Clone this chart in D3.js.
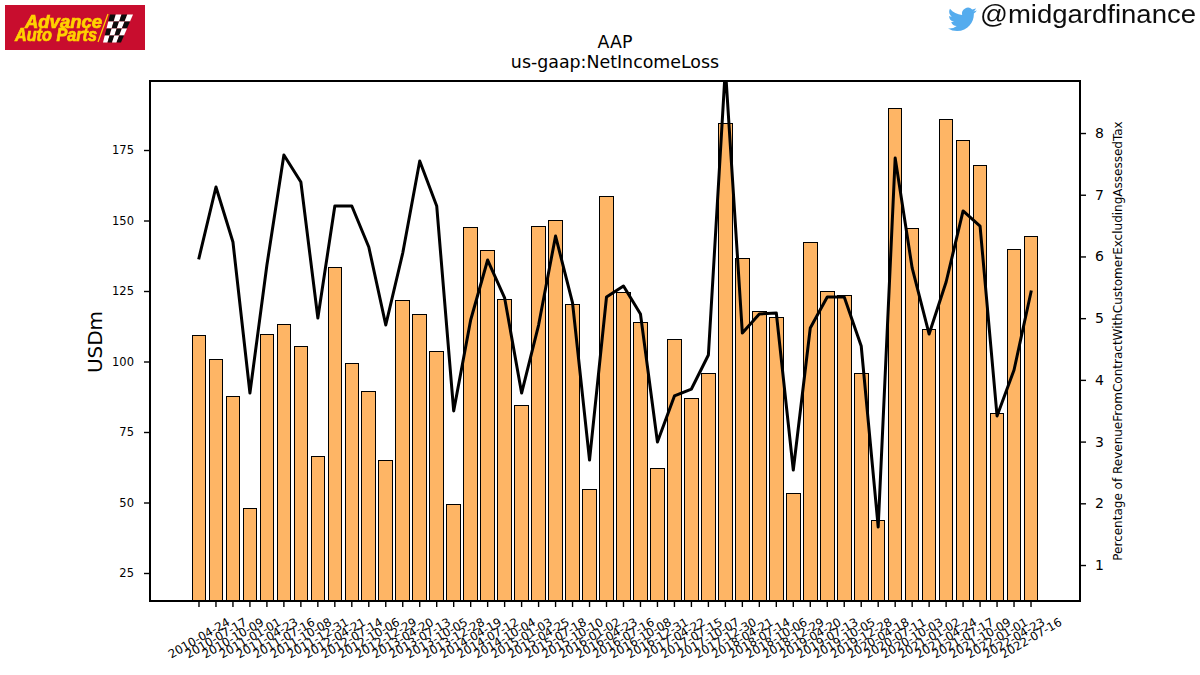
<!DOCTYPE html>
<html>
<head>
<meta charset="utf-8">
<title>AAP net income and revenue</title>
<script src="https://d3js.org/d3.v7.min.js"></script>
<style>
  html, body { margin: 0; padding: 0; background: #fff; }
  svg { display: block; }
  text { font-family: "DejaVu Sans", sans-serif; fill: #000; }
</style>
</head>
<body>
<svg id="chart" width="1200" height="675"></svg>
<script>
// Quarter-end dates shown on the x axis
const periods = [
  "2010-04-24","2010-07-17","2010-10-09","2011-01-01","2011-04-23","2011-07-16","2011-10-08","2011-12-31",
  "2012-04-21","2012-07-14","2012-10-06","2012-12-29","2013-04-20","2013-07-13","2013-10-05","2013-12-28",
  "2014-04-19","2014-07-12","2014-10-04","2015-01-03","2015-04-25","2015-07-18","2015-10-10","2016-01-02",
  "2016-04-23","2016-07-16","2016-10-08","2016-12-31","2017-04-22","2017-07-15","2017-10-07","2017-12-30",
  "2018-04-21","2018-07-14","2018-10-06","2018-12-29","2019-04-20","2019-07-13","2019-10-05","2019-12-28",
  "2020-04-18","2020-07-11","2020-10-03","2021-01-02","2021-04-24","2021-07-17","2021-10-09","2022-01-01",
  "2022-04-23","2022-07-16"
];

// Net income, USD millions
const netIncome = [
  109.3,100.8,87.7,48.0,109.6,113.2,105.3,66.4,133.4,99.4,89.5,65.0,
  121.7,116.7,103.6,49.4,147.6,139.4,122.1,84.5,147.9,150.0,120.3,54.7,
  158.6,124.5,113.9,62.1,107.9,87.0,95.8,184.5,136.6,117.9,115.7,53.3,
  142.3,124.9,123.5,95.8,43.7,189.7,147.2,111.5,185.9,178.4,169.5,81.6,
  139.8,144.4
];

// Revenue from contracts with customers, right-hand scale
const revenueShare = [
  5.975,7.125,6.234,3.787,5.861,7.644,7.206,5.003,6.818,6.818,6.153,4.889,
  6.056,7.547,6.818,3.496,4.970,5.942,5.327,3.787,4.889,6.331,5.246,2.701,
  5.343,5.521,5.067,2.993,3.739,3.852,4.403,9.054,4.759,5.067,5.084,2.539,
  4.841,5.343,5.343,4.549,1.616,7.595,5.813,4.743,5.586,6.737,6.493,3.415,
  4.160,5.424
];

const leftTicks = [25, 50, 75, 100, 125, 150, 175];
const rightTicks = [1, 2, 3, 4, 5, 6, 7, 8];

const titleLines = ["AAP", "us-gaap:NetIncomeLoss"];
const leftLabel = "USDm";
const rightLabel = "Percentage of RevenueFromContractWithCustomerExcludingAssessedTax";
const brandName = ["Advance", "Auto Parts"];
const twitterHandle = "@midgardfinance";

// Plot frame
const frame = { left: 150, right: 1080, top: 81, bottom: 601 };
const svg = d3.select("#chart");
const defs = svg.append("defs");

const x = d3.scaleBand()
  .domain(periods)
  .range([frame.left, frame.right])
  .paddingInner(0.2)
  .paddingOuter(2.485);

const yLeft = d3.scaleLinear().domain([15.07, 199.47]).range([frame.bottom, frame.top]);
const yRight = d3.scaleLinear().domain([0.417, 8.843]).range([frame.bottom, frame.top]);

defs.append("clipPath").attr("id", "plot-clip")
  .append("rect")
  .attr("x", frame.left).attr("y", frame.top)
  .attr("width", frame.right - frame.left)
  .attr("height", frame.bottom - frame.top);

defs.append("filter").attr("id", "soft")
  .attr("x", "-5%").attr("y", "-5%").attr("width", "110%").attr("height", "110%")
  .append("feGaussianBlur").attr("stdDeviation", 0.4);

// Bars for net income
svg.append("g").attr("clip-path", "url(#plot-clip)")
  .selectAll("rect")
  .data(netIncome)
  .join("rect")
  .attr("x", (d, i) => x(periods[i]))
  .attr("y", d => yLeft(d))
  .attr("width", x.bandwidth())
  .attr("height", d => frame.bottom - yLeft(d))
  .attr("fill", "#feb565")
  .attr("stroke", "#000")
  .attr("stroke-width", 1)
  .attr("shape-rendering", "crispEdges");

// Line on the secondary axis
const line = d3.line()
  .x((d, i) => x(periods[i]) + x.bandwidth() / 2)
  .y(d => yRight(d));

svg.append("path")
  .attr("clip-path", "url(#plot-clip)")
  .datum(revenueShare)
  .attr("d", line)
  .attr("fill", "none")
  .attr("stroke", "#000")
  .attr("stroke-width", 3)
  .attr("stroke-linejoin", "round")
  .attr("stroke-linecap", "square");

function styleAxis(g, fontSize) {
  g.select(".domain").remove();
  g.selectAll(".tick line").attr("stroke", "#000").attr("stroke-width", 1.4);
  g.selectAll(".tick text").attr("font-size", fontSize).attr("font-family", '"DejaVu Sans", sans-serif');
}

// Left axis
svg.append("g")
  .attr("transform", `translate(${frame.left},0)`)
  .call(d3.axisLeft(yLeft).tickValues(leftTicks).tickSize(6).tickPadding(10))
  .call(styleAxis, 11.5);

// Right axis
svg.append("g")
  .attr("transform", `translate(${frame.right},0)`)
  .call(d3.axisRight(yRight).tickValues(rightTicks).tickSize(6).tickPadding(9).tickFormat(d3.format("d")))
  .call(styleAxis, 14);

// Bottom axis with slanted date labels centred under each tick
svg.append("g")
  .attr("transform", `translate(0,${frame.bottom})`)
  .call(d3.axisBottom(x).tickSize(6))
  .call(styleAxis, 11.8)
  .call(g => g.selectAll(".tick text")
    .attr("text-anchor", "middle")
    .attr("x", 0).attr("y", 0).attr("dy", "0.35em")
    .attr("transform", "translate(0,37) rotate(-30)"));

// Plot border
svg.append("rect")
  .attr("x", frame.left).attr("y", frame.top)
  .attr("width", frame.right - frame.left)
  .attr("height", frame.bottom - frame.top)
  .attr("fill", "none")
  .attr("stroke", "#000")
  .attr("stroke-width", 2);

// Titles
svg.selectAll("text.chart-title")
  .data(titleLines)
  .join("text")
  .attr("class", "chart-title")
  .attr("x", 615)
  .attr("y", (d, i) => 48 + i * 20)
  .attr("text-anchor", "middle")
  .attr("font-size", 17.4)
  .text(d => d);

svg.append("text")
  .attr("transform", "translate(102,342) rotate(-90)")
  .attr("text-anchor", "middle")
  .attr("font-size", 20)
  .text(leftLabel);

svg.append("text")
  .attr("transform", "translate(1122,341) rotate(-90)")
  .attr("text-anchor", "middle")
  .attr("font-size", 12)
  .text(rightLabel);

// Brand badge
const badge = svg.append("g").attr("filter", "url(#soft)");

badge.append("rect")
  .attr("x", 5).attr("y", 5).attr("width", 140).attr("height", 45)
  .attr("fill", "#c8102e");

const brandX = [25, 15];
const brandBase = [28, 41];
const brandWidth = [77, 82];
badge.selectAll("text")
  .data(brandName)
  .join("text")
  .attr("x", (d, i) => brandX[i])
  .attr("y", (d, i) => brandBase[i])
  .attr("textLength", (d, i) => brandWidth[i])
  .attr("lengthAdjust", "spacingAndGlyphs")
  .attr("font-size", 17.5)
  .attr("font-weight", "bold")
  .attr("font-style", "italic")
  .style("font-family", '"Liberation Sans", sans-serif')
  .style("fill", "#ffd200")
  .attr("stroke", "#ffd200")
  .attr("stroke-width", 0.7)
  .text(d => d);

// Divider stroke between the wordmark and the flag
badge.append("path")
  .attr("d", "M108,14 L98,42")
  .attr("stroke", "#ffd200")
  .attr("stroke-width", 1.2);

// Chequered flag: a grid of cells between a wider top edge and a narrower bottom edge
const flagCols = d3.range(4);
const flagRows = d3.range(4);
const flagTop = d3.scaleLinear().domain([0, 4]).range([110, 133]);
const flagBottom = d3.scaleLinear().domain([0, 4]).range([103, 121]);
const flagY = d3.scaleLinear().domain([0, 4]).range([14.5, 42.5]);
const flagPoint = (c, r) => {
  const t = r / 4;
  return [flagTop(c) * (1 - t) + flagBottom(c) * t, flagY(r)];
};
flagRows.forEach(r => flagCols.forEach(c => {
  const corners = [flagPoint(c, r), flagPoint(c + 1, r), flagPoint(c + 1, r + 1), flagPoint(c, r + 1)];
  badge.append("path")
    .attr("d", d3.line()(corners) + "Z")
    .attr("fill", (r + c) % 2 === 0 ? "#111" : "#fff");
}));

// Twitter handle
const handle = svg.append("g").attr("filter", "url(#soft)");

handle.append("path")
  .attr("transform", "translate(948,5) scale(1.2)")
  .attr("fill", "#55acee")
  .attr("d", "M23.953 4.57a10 10 0 01-2.825.775 4.958 4.958 0 002.163-2.723c-.951.555-2.005.959-3.127 1.184a4.92 4.92 0 00-8.384 4.482C7.69 8.095 4.067 6.13 1.64 3.162a4.822 4.822 0 00-.666 2.475c0 1.71.87 3.213 2.188 4.096a4.904 4.904 0 01-2.228-.616v.06a4.923 4.923 0 003.946 4.827 4.996 4.996 0 01-2.212.085 4.936 4.936 0 004.604 3.417 9.867 9.867 0 01-6.102 2.105c-.39 0-.779-.023-1.17-.067a13.995 13.995 0 007.557 2.209c9.053 0 13.998-7.496 13.998-13.985 0-.21 0-.42-.015-.63A9.935 9.935 0 0024 4.59z");

handle.append("text")
  .attr("x", 980)
  .attr("y", 23)
  .attr("textLength", 216)
  .attr("lengthAdjust", "spacingAndGlyphs")
  .attr("font-size", 26.5)
  .style("font-family", '"Liberation Sans", sans-serif')
  .style("fill", "#111")
  .text(twitterHandle);
</script>
</body>
</html>
